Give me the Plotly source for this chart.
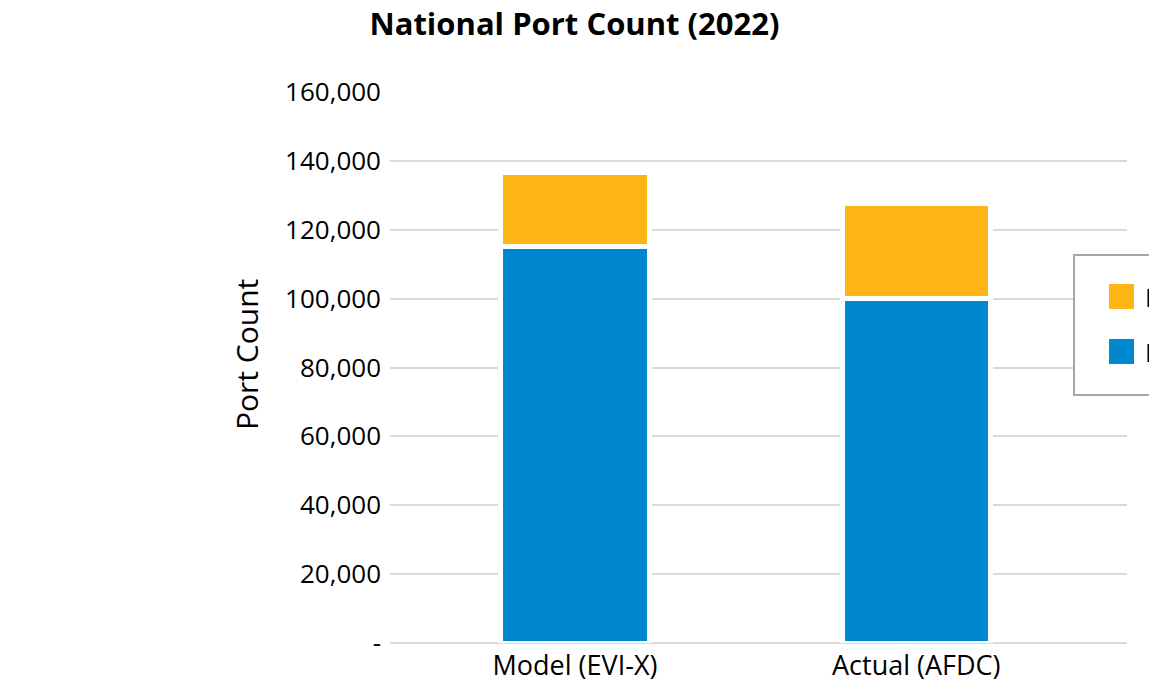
import plotly.graph_objects as go

categories = ["Model (EVI-X)", "Actual (AFDC)"]
public_l2 = [115000, 99900]
public_dc = [21600, 27700]
series_names = ["Public L2", "Public DC"]
tick_vals = [0, 20000, 40000, 60000, 80000, 100000, 120000, 140000, 160000]
tick_text = ["-", "20,000", "40,000", "60,000", "80,000", "100,000", "120,000", "140,000", "160,000"]

OFF = 8  # page body margin
W, H = 1157, 696
L, R, T, B = 390 - OFF, 1127 - OFF, 92 - OFF, 643 - OFF
FONT = "Open Sans"
BLUE = "#0088CE"
ORANGE = "#FCB515"

def px(x):
    # reference-screen x -> paper fraction
    return (x - OFF - L) / (R - L)

def py(y):
    return (B - (y - OFF)) / (B - T)

c0, c1 = 575, 916.3
unit = c1 - c0

fig = go.Figure()
fig.add_trace(go.Bar(x=[0, 1], y=public_l2, name=series_names[0],
                     marker=dict(color=BLUE, line=dict(color="white", width=5)), width=0.435))
fig.add_trace(go.Bar(x=[0, 1], y=public_dc, name=series_names[1],
                     marker=dict(color=ORANGE, line=dict(color="white", width=5)), width=0.435))

shapes = [
    dict(type="rect", xref="paper", yref="paper", x0=px(1074), x1=px(1200), y0=py(255), y1=py(395),
         line=dict(color="#A6A6A6", width=2), fillcolor="white", layer="above"),
    dict(type="rect", xref="paper", yref="paper", x0=px(1109), x1=px(1134), y0=py(284), y1=py(309),
         line=dict(width=0), fillcolor=ORANGE, layer="above"),
    dict(type="rect", xref="paper", yref="paper", x0=px(1109), x1=px(1134), y0=py(339), y1=py(364),
         line=dict(width=0), fillcolor=BLUE, layer="above"),
]
annotations = [
    dict(text="Public DC", xref="paper", yref="paper", x=px(1143), y=py(297), xanchor="left", yanchor="middle",
         showarrow=False, font=dict(family=FONT, size=25, color="black")),
    dict(text="Public L2", xref="paper", yref="paper", x=px(1143), y=py(352), xanchor="left", yanchor="middle",
         showarrow=False, font=dict(family=FONT, size=25, color="black")),
    dict(text="Port Count", xref="paper", yref="paper", x=px(246), y=py(355), xanchor="center", yanchor="middle",
         textangle=-90, showarrow=False, font=dict(family=FONT, size=30, color="black")),
]

fig.update_layout(
    width=W, height=H,
    margin=dict(l=L, r=W - R, t=T, b=H - B, autoexpand=False),
    title=dict(text="<b>National Port Count (2022)</b>", xref="container", yref="container",
               x=(574.5 - OFF) / W, y=1 - (24.5 - OFF) / H, xanchor="center", yanchor="middle",
               font=dict(family=FONT, size=31, color="black")),
    barmode="stack",
    showlegend=False,
    plot_bgcolor="white", paper_bgcolor="white",
    font=dict(family=FONT, size=26, color="black"),
    shapes=shapes, annotations=annotations,
    xaxis=dict(tickvals=[0, 1], ticktext=categories,
               range=[-(c0 - (L + OFF)) / unit, 1 + ((R + OFF) - c1) / unit],
               showgrid=False, zeroline=False, showline=False, ticks="", tickfont=dict(size=27),
               ticklabelstandoff=4, fixedrange=True),
    yaxis=dict(range=[0, 160000], tickvals=tick_vals, ticktext=tick_text, showgrid=True,
               gridcolor="#D9D9D9", gridwidth=2, zeroline=True, zerolinecolor="#D9D9D9", zerolinewidth=2,
               showline=False, ticks="", ticklabelstandoff=8),
)

fig.write_html("out.html")
